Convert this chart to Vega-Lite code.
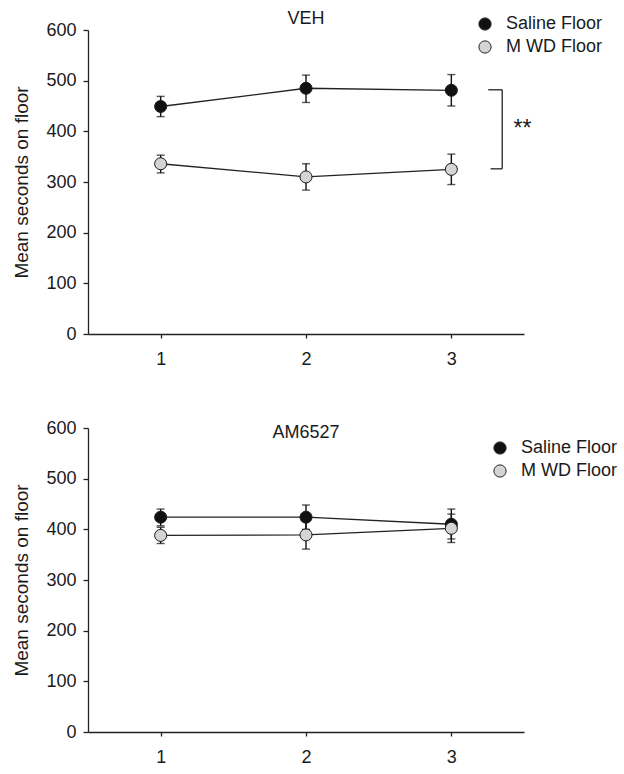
{
  "$schema": "https://vega.github.io/schema/vega-lite/v6.json",
  "background": "white",
  "padding": {"left": 12, "top": 10, "right": 5, "bottom": 5},
  "spacing": 51,
  "config": {
    "view": {"stroke": null},
    "font": "Liberation Sans",
    "text": {"font": "Liberation Sans", "fontWeight": "normal"},
    "axis": {
      "domainColor": "#222", "tickColor": "#222", "labelColor": "#1a1a1a", "titleColor": "#1a1a1a",
      "labelFont": "Liberation Sans", "titleFont": "Liberation Sans",
      "labelFontSize": 18, "titleFontSize": 19, "titleFontWeight": "normal",
      "grid": false, "domainWidth": 1.3, "tickWidth": 1.3
    },
    "legend": {
      "labelFont": "Liberation Sans", "labelFontSize": 18, "labelColor": "#1a1a1a",
      "symbolType": "circle", "symbolSize": 150, "symbolStrokeColor": "#222", "symbolStrokeWidth": 1,
      "padding": 0, "labelOffset": 12, "rowPadding": 5
    }
  },
  "datasets": {
    "d": [
      {"panel": "VEH", "day": 1, "group": "Saline Floor", "mean": 449, "lo": 429, "hi": 469},
      {"panel": "VEH", "day": 2, "group": "Saline Floor", "mean": 485, "lo": 457, "hi": 511},
      {"panel": "VEH", "day": 3, "group": "Saline Floor", "mean": 481, "lo": 450, "hi": 512},
      {"panel": "VEH", "day": 1, "group": "M WD Floor", "mean": 336, "lo": 318, "hi": 353},
      {"panel": "VEH", "day": 2, "group": "M WD Floor", "mean": 310, "lo": 284, "hi": 336},
      {"panel": "VEH", "day": 3, "group": "M WD Floor", "mean": 325, "lo": 295, "hi": 355},
      {"panel": "AM6527", "day": 1, "group": "Saline Floor", "mean": 424, "lo": 407, "hi": 440},
      {"panel": "AM6527", "day": 2, "group": "Saline Floor", "mean": 424, "lo": 400, "hi": 448},
      {"panel": "AM6527", "day": 3, "group": "Saline Floor", "mean": 410, "lo": 381, "hi": 440},
      {"panel": "AM6527", "day": 1, "group": "M WD Floor", "mean": 388, "lo": 372, "hi": 404},
      {"panel": "AM6527", "day": 2, "group": "M WD Floor", "mean": 389, "lo": 361, "hi": 417},
      {"panel": "AM6527", "day": 3, "group": "M WD Floor", "mean": 402, "lo": 374, "hi": 430}
    ]
  },
  "vconcat": [
    {
      "width": 436, "height": 304,
      "data": {"name": "d"},
      "transform": [{"filter": "datum.panel === 'VEH'"}],
      "encoding": {
        "x": {"field": "day", "type": "quantitative", "scale": {"domain": [0.5, 3.5], "nice": false, "zero": false},
              "axis": {"values": [1, 2, 3], "format": "d", "title": null, "tickSize": 4, "labelPadding": 12}},
        "y": {"field": "mean", "type": "quantitative", "scale": {"domain": [0, 600], "nice": false},
              "axis": {"values": [0, 100, 200, 300, 400, 500, 600], "title": "Mean seconds on floor", "tickSize": 5, "labelPadding": 7, "titlePadding": 14}}
      },
      "layer": [
        {"mark": {"type": "line", "color": "#222", "strokeWidth": 1.3}, "encoding": {"detail": {"field": "group"}}},
        {"mark": {"type": "errorbar", "ticks": {"size": 8}, "color": "#111", "thickness": 1.4},
         "encoding": {"y": {"field": "lo", "type": "quantitative"}, "y2": {"field": "hi"}, "detail": {"field": "group"}}},
        {"mark": {"type": "point", "filled": true, "size": 145, "stroke": "#1a1a1a", "strokeWidth": 1, "opacity": 1},
         "encoding": {"color": {"field": "group", "type": "nominal",
           "scale": {"domain": ["Saline Floor", "M WD Floor"], "range": ["#111111", "#d4d4d4"]},
           "legend": {"title": null, "orient": "none", "legendX": 388, "legendY": -15}}}},
        {"transform": [{"filter": "datum.day === 1 && datum.group === 'Saline Floor'"}],
         "mark": {"type": "text", "text": "VEH", "fontSize": 18, "color": "#1a1a1a", "baseline": "middle", "align": "center"},
         "encoding": {"x": {"datum": 2}, "y": {"datum": 621}}},
        {"transform": [{"filter": "datum.day === 1 && datum.group === 'Saline Floor'"}],
         "mark": {"type": "rule", "color": "#222", "strokeWidth": 1.3}, "encoding": {"x": {"datum": 3.35}, "y": {"datum": 326}, "y2": {"datum": 482}}},
        {"transform": [{"filter": "datum.day === 1 && datum.group === 'Saline Floor'"}],
         "mark": {"type": "rule", "color": "#222", "strokeWidth": 1.3}, "encoding": {"x": {"datum": 3.254}, "x2": {"datum": 3.35}, "y": {"datum": 482}}},
        {"transform": [{"filter": "datum.day === 1 && datum.group === 'Saline Floor'"}],
         "mark": {"type": "rule", "color": "#222", "strokeWidth": 1.3}, "encoding": {"x": {"datum": 3.27}, "x2": {"datum": 3.35}, "y": {"datum": 326}}},
        {"transform": [{"filter": "datum.day === 1 && datum.group === 'Saline Floor'"}],
         "mark": {"type": "text", "text": "**", "fontSize": 23, "color": "#1a1a1a", "baseline": "middle", "align": "center"},
         "encoding": {"x": {"datum": 3.49}, "y": {"datum": 404}}}
      ]
    },
    {
      "width": 436, "height": 304,
      "data": {"name": "d"},
      "transform": [{"filter": "datum.panel === 'AM6527'"}],
      "encoding": {
        "x": {"field": "day", "type": "quantitative", "scale": {"domain": [0.5, 3.5], "nice": false, "zero": false},
              "axis": {"values": [1, 2, 3], "format": "d", "title": null, "tickSize": 4, "labelPadding": 12}},
        "y": {"field": "mean", "type": "quantitative", "scale": {"domain": [0, 600], "nice": false},
              "axis": {"values": [0, 100, 200, 300, 400, 500, 600], "title": "Mean seconds on floor", "tickSize": 5, "labelPadding": 7, "titlePadding": 14}}
      },
      "layer": [
        {"mark": {"type": "line", "color": "#222", "strokeWidth": 1.3}, "encoding": {"detail": {"field": "group"}}},
        {"mark": {"type": "errorbar", "ticks": {"size": 8}, "color": "#111", "thickness": 1.4},
         "encoding": {"y": {"field": "lo", "type": "quantitative"}, "y2": {"field": "hi"}, "detail": {"field": "group"}}},
        {"mark": {"type": "point", "filled": true, "size": 145, "stroke": "#1a1a1a", "strokeWidth": 1, "opacity": 1},
         "encoding": {"color": {"field": "group", "type": "nominal",
           "scale": {"domain": ["Saline Floor", "M WD Floor"], "range": ["#111111", "#d4d4d4"]},
           "legend": {"title": null, "orient": "none", "legendX": 403, "legendY": 11}}}},
        {"transform": [{"filter": "datum.day === 1 && datum.group === 'Saline Floor'"}],
         "mark": {"type": "text", "text": "AM6527", "fontSize": 18, "color": "#1a1a1a", "baseline": "middle", "align": "center"},
         "encoding": {"x": {"datum": 2}, "y": {"datum": 591}}}
      ]
    }
  ],
  "resolve": {"legend": {"color": "independent"}}
}
